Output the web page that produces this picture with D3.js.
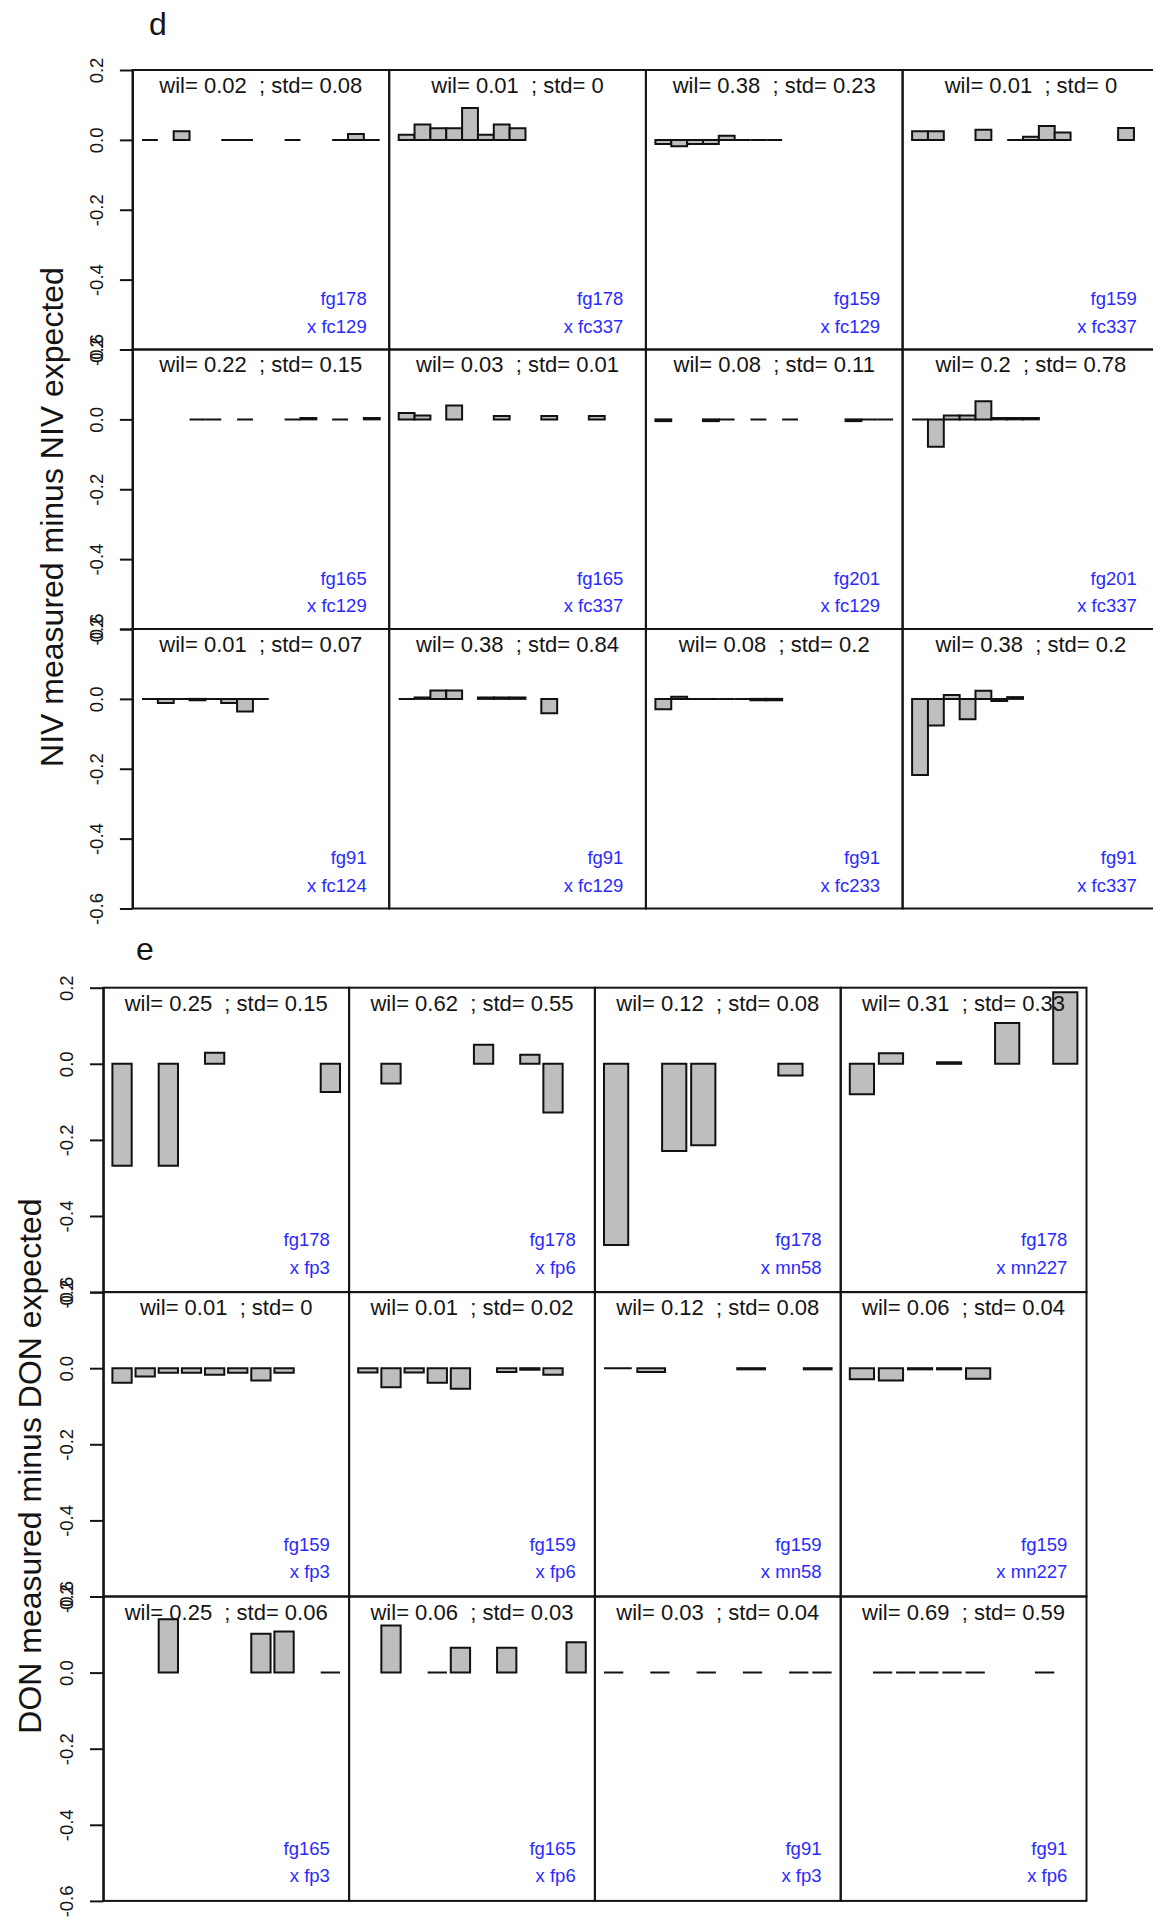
<!DOCTYPE html>
<html>
<head>
<meta charset="utf-8">
<script src="https://cdn.jsdelivr.net/npm/d3@7"></script>
<style>
html, body { margin: 0; padding: 0; background: #ffffff; }
svg { display: block; }
</style>
</head>
<body>
<svg id="chart" width="1153" height="1921"></svg>
<script>
// ---------------- DATA ----------------
const N = null; // missing measurement (no bar drawn)

const yTickValues = [0.2, 0.0, -0.2, -0.4, -0.6];
const yTickLabels = ["0.2", "0.0", "-0.2", "-0.4", "-0.6"];
const yDomain = [-0.6, 0.2];

// Panel d : NIV
const nivLetter = "d";
const nivTitle = "NIV measured minus NIV expected";
const nivParents = ["fg178", "fg178", "fg159", "fg159", "fg165", "fg165", "fg201", "fg201", "fg91", "fg91", "fg91", "fg91"];
const nivTesters = ["x fc129", "x fc337", "x fc129", "x fc337", "x fc129", "x fc337", "x fc129", "x fc337", "x fc124", "x fc129", "x fc233", "x fc337"];
const nivWil = ["0.02", "0.01", "0.38", "0.01", "0.22", "0.03", "0.08", "0.2", "0.01", "0.38", "0.08", "0.38"];
const nivStd = ["0.08", "0", "0.23", "0", "0.15", "0.01", "0.11", "0.78", "0.07", "0.84", "0.2", "0.2"];
const nivValues = [
  [0, N, 0.025, N, N, 0, 0, N, N, 0, N, N, 0, 0.017, 0],
  [0.015, 0.044, 0.033, 0.033, 0.091, 0.015, 0.044, 0.033, N, N, N, N, N, N, N],
  [-0.012, -0.018, -0.012, -0.012, 0.012, 0, 0, 0, N, N, N, N, N, N, N],
  [0.025, 0.025, N, N, 0.029, N, 0, 0.009, 0.04, 0.021, N, N, N, 0.034, N],
  [N, N, N, 0, 0, N, 0, N, N, 0, 0.004, N, 0, N, 0.004],
  [0.018, 0.011, N, 0.04, N, N, 0.01, N, N, 0.01, N, N, 0.01, N, N],
  [-0.005, N, N, -0.005, 0, N, 0, N, 0, N, N, N, -0.005, 0, 0],
  [0, -0.078, 0.011, 0.011, 0.052, 0.004, 0.004, 0.004, N, N, N, N, N, N, N],
  [0, -0.012, 0, -0.004, 0, -0.012, -0.036, 0, N, N, N, N, N, N, N],
  [0, 0.004, 0.024, 0.024, N, 0.004, 0.004, 0.004, N, -0.041, N, N, N, N, N],
  [-0.03, 0.006, 0, 0, 0, 0, -0.004, -0.004, N, N, N, N, N, N, N],
  [-0.218, -0.076, 0.011, -0.058, 0.023, -0.006, 0.005, N, N, N, N, N, N, N, N]
];

// Panel e : DON
const donLetter = "e";
const donTitle = "DON measured minus DON expected";
const donParents = ["fg178", "fg178", "fg178", "fg178", "fg159", "fg159", "fg159", "fg159", "fg165", "fg165", "fg91", "fg91"];
const donTesters = ["x fp3", "x fp6", "x mn58", "x mn227", "x fp3", "x fp6", "x mn58", "x mn227", "x fp3", "x fp6", "x fp3", "x fp6"];
const donWil = ["0.25", "0.62", "0.12", "0.31", "0.01", "0.01", "0.12", "0.06", "0.25", "0.06", "0.03", "0.69"];
const donStd = ["0.15", "0.55", "0.08", "0.33", "0", "0.02", "0.08", "0.04", "0.06", "0.03", "0.04", "0.59"];
const donValues = [
  [-0.268, N, -0.268, N, 0.029, N, N, N, N, -0.074],
  [N, -0.052, N, N, N, 0.05, N, 0.024, -0.128, N],
  [-0.476, N, -0.229, -0.214, N, N, -0.031, N],
  [-0.08, 0.028, N, 0.004, N, 0.107, N, 0.188],
  [-0.038, -0.022, -0.012, -0.012, -0.017, -0.012, -0.032, -0.012, N, N],
  [-0.011, -0.05, -0.011, -0.038, -0.054, N, -0.01, -0.004, -0.017, N],
  [0, -0.01, N, N, -0.003, N, -0.003],
  [-0.029, -0.032, -0.003, -0.003, -0.028, N, N, N],
  [N, N, 0.14, N, N, N, 0.102, 0.108, N, 0],
  [N, 0.124, N, 0, 0.065, N, 0.065, N, N, 0.08],
  [0, N, 0, N, 0, N, 0, N, 0, 0],
  [N, 0, 0, 0, 0, 0, N, N, 0, N]
];

// ---------------- LAYOUT / STYLE ----------------
const FONT = '"Liberation Sans", Arial, Helvetica, sans-serif';
const INK = "#141414";
const BLUE = "#2a2aff";
const BAR_FILL = "#bebebe";

const layoutD = {
  left: 132.5, top: 70, colW: 256.7, rowH: 279.5, space: 0,
  tickLen: 12.6, labelOff: 29.5,
  statBase: 22.5, legRight: 22.5, legBase1: 44.5, legBase2: 16.8,
  titleX: 63, titleY: 517, letterX: 149, letterY: 35
};
const layoutE = {
  left: 103.3, top: 987.7, colW: 245.8, rowH: 304.4, space: 0.2,
  tickLen: 13.3, labelOff: 30.6,
  statBase: 23, legRight: 19.2, legBase1: 46, legBase2: 18.5,
  titleX: 40.5, titleY: 1466, letterX: 136, letterY: 960
};

const svg = d3.select("#chart").style("font-family", FONT);

function drawPanel(L, letter, title, values, parents, testers, wil, std) {
  const g = svg.append("g");
  const nRows = Math.ceil(values.length / 4);

  values.forEach((vals, i) => {
    const row = Math.floor(i / 4), col = i % 4;
    const x0 = L.left + col * L.colW, y0 = L.top + row * L.rowH;
    const n = vals.length;
    const lo = L.space, hi = n * (1 + L.space), pad = 0.04 * (hi - lo);
    const x = d3.scaleLinear().domain([lo - pad, hi + pad]).range([x0, x0 + L.colW]);
    const y = d3.scaleLinear().domain(yDomain).range([y0 + L.rowH, y0]);

    const cell = g.append("g");
    const bars = vals.map((v, k) => ({ v, k })).filter(d => d.v !== null);
    cell.selectAll("path.bar").data(bars).join("path")
      .attr("class", "bar")
      .attr("d", d => {
        const xl = x(L.space + d.k * (1 + L.space));
        const xr = x((d.k + 1) * (1 + L.space));
        return `M${xl},${y(0)}H${xr}V${y(d.v)}H${xl}Z`;
      })
      .attr("fill", BAR_FILL)
      .attr("stroke", "#111")
      .attr("stroke-width", 2);

    cell.append("rect")
      .attr("x", x0).attr("y", y0)
      .attr("width", L.colW).attr("height", L.rowH)
      .attr("fill", "none").attr("stroke", INK).attr("stroke-width", 2);

    cell.append("text")
      .attr("x", x0 + L.colW / 2)
      .attr("y", y0 + L.statBase)
      .attr("text-anchor", "middle")
      .attr("font-size", 22)
      .attr("fill", INK)
      .style("white-space", "pre")
      .text(`wil= ${wil[i]}  ; std= ${std[i]}`);

    cell.append("text")
      .attr("x", x0 + L.colW - L.legRight)
      .attr("y", y0 + L.rowH - L.legBase1)
      .attr("text-anchor", "end")
      .attr("font-size", 18.5)
      .attr("fill", BLUE)
      .text(parents[i]);
    cell.append("text")
      .attr("x", x0 + L.colW - L.legRight)
      .attr("y", y0 + L.rowH - L.legBase2)
      .attr("text-anchor", "end")
      .attr("font-size", 18.5)
      .attr("fill", BLUE)
      .text(testers[i]);
  });

  // left axis for each row
  for (let r = 0; r < nRows; r++) {
    const y0 = L.top + r * L.rowH;
    const y = d3.scaleLinear().domain(yDomain).range([y0 + L.rowH, y0]);
    const axis = d3.axisLeft(y)
      .tickValues(yTickValues)
      .tickFormat((d, j) => yTickLabels[j])
      .tickSize(L.tickLen)
      .tickSizeOuter(0);
    const ga = g.append("g")
      .attr("transform", `translate(${L.left},0)`)
      .call(axis)
      .attr("font-family", FONT)
      .attr("font-size", 18.5);
    ga.select(".domain").attr("stroke", INK).attr("stroke-width", 2);
    ga.selectAll(".tick line").attr("stroke", INK).attr("stroke-width", 2);
    ga.selectAll(".tick text")
      .attr("x", null).attr("dy", null)
      .attr("fill", INK)
      .attr("text-anchor", "middle")
      .attr("transform", `translate(${-L.labelOff},0) rotate(-90)`);
  }

  // axis title
  g.append("text")
    .attr("transform", `translate(${L.titleX},${L.titleY}) rotate(-90)`)
    .attr("text-anchor", "middle")
    .attr("font-size", 32)
    .attr("fill", INK)
    .text(title);

  // panel letter
  g.append("text")
    .attr("x", L.letterX).attr("y", L.letterY)
    .attr("font-size", 32)
    .attr("fill", INK)
    .text(letter);
}

drawPanel(layoutD, nivLetter, nivTitle, nivValues, nivParents, nivTesters, nivWil, nivStd);
drawPanel(layoutE, donLetter, donTitle, donValues, donParents, donTesters, donWil, donStd);
</script>
</body>
</html>
